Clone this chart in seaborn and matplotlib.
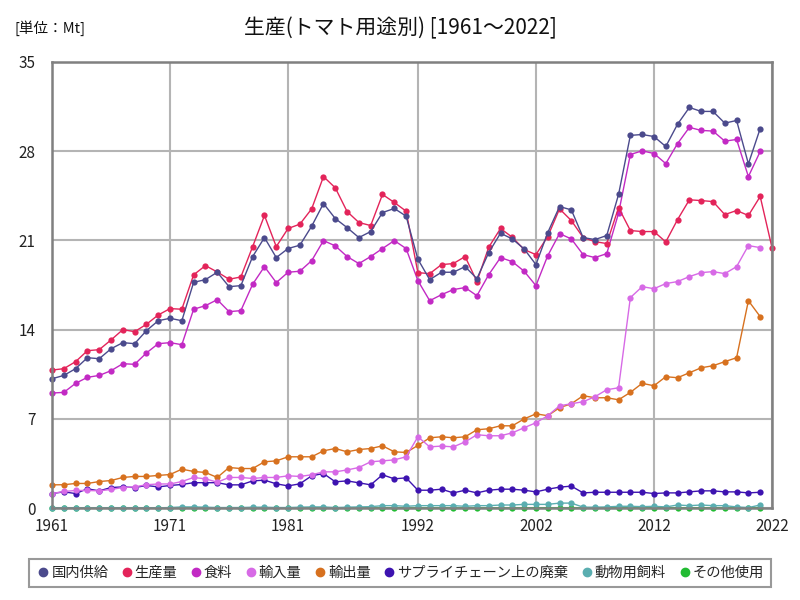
import numpy as np
import pandas as pd
import matplotlib
matplotlib.use("Agg")
import matplotlib.pyplot as plt
from matplotlib.lines import Line2D
import seaborn as sns

years = list(range(1961, 2022))
years_prod = list(range(1961, 2023))

domestic_supply = [10.15, 10.41, 10.94, 11.8, 11.72, 12.5, 12.98, 12.9, 13.92, 14.7,
                   14.89, 14.7, 17.71, 17.92, 18.5, 17.37, 17.45, 19.73, 21.22, 19.65,
                   20.36, 20.62, 22.11, 23.89, 22.71, 22.0, 21.22, 21.69, 23.18, 23.5,
                   22.9, 19.52, 17.92, 18.5, 18.5, 18.94, 18.0, 20.04, 21.56, 21.11,
                   20.33, 19.1, 21.61, 23.65, 23.39, 21.22, 21.06, 21.38, 24.6, 29.23,
                   29.3, 29.14, 28.36, 30.11, 31.42, 31.11, 31.11, 30.19, 30.4, 27.0,
                   29.77]
production = [10.83, 10.94, 11.49, 12.35, 12.43, 13.19, 14.0, 13.84, 14.42, 15.15,
              15.65, 15.6, 18.3, 19.02, 18.52, 17.95, 18.13, 20.51, 22.95, 20.51,
              21.93, 22.27, 23.47, 26.0, 25.12, 23.26, 22.4, 22.16, 24.6, 23.97,
              23.29, 18.47, 18.39, 19.1, 19.18, 19.73, 17.77, 20.46, 21.93, 21.24,
              20.28, 19.88, 21.3, 23.47, 22.55, 21.22, 20.9, 20.75, 23.57, 21.77,
              21.69, 21.69, 20.88, 22.63, 24.18, 24.12, 24.04, 23.02, 23.34, 22.95,
              24.44, 20.43]
food = [9.03, 9.08, 9.79, 10.26, 10.41, 10.78, 11.33, 11.28, 12.17, 12.9,
        12.98, 12.82, 15.6, 15.88, 16.35, 15.41, 15.49, 17.56, 18.94, 17.69,
        18.5, 18.58, 19.41, 20.98, 20.57, 19.73, 19.18, 19.73, 20.36, 20.98,
        20.36, 17.84, 16.27, 16.74, 17.14, 17.3, 16.66, 18.31, 19.65, 19.33,
        18.58, 17.45, 19.8, 21.53, 21.11, 19.88, 19.65, 19.96, 23.13, 27.73,
        28.02, 27.81, 27.02, 28.59, 29.86, 29.62, 29.57, 28.78, 28.91, 26.0,
        27.97]
imports = [1.15, 1.31, 1.39, 1.39, 1.36, 1.47, 1.62, 1.67, 1.84, 1.9,
           1.9, 2.09, 2.41, 2.3, 2.04, 2.41, 2.41, 2.33, 2.41, 2.41,
           2.54, 2.49, 2.62, 2.85, 2.85, 3.0, 3.19, 3.64, 3.71, 3.79,
           4.03, 5.6, 4.81, 4.87, 4.81, 5.2, 5.76, 5.68, 5.68, 5.91,
           6.31, 6.7, 7.25, 8.03, 8.19, 8.35, 8.74, 9.29, 9.44, 16.51,
           17.37, 17.21, 17.61, 17.77, 18.16, 18.47, 18.55, 18.39, 18.94, 20.59,
           20.43]
exports = [1.83, 1.84, 1.94, 1.94, 2.09, 2.17, 2.41, 2.49, 2.49, 2.57,
           2.64, 3.06, 2.88, 2.8, 2.41, 3.19, 3.11, 3.11, 3.64, 3.71,
           4.03, 4.03, 4.03, 4.5, 4.68, 4.42, 4.6, 4.68, 4.89, 4.42,
           4.37, 4.92, 5.52, 5.6, 5.52, 5.6, 6.15, 6.23, 6.46, 6.46,
           7.0, 7.4, 7.25, 7.88, 8.19, 8.82, 8.66, 8.66, 8.5, 9.08,
           9.79, 9.6, 10.31, 10.23, 10.62, 11.01, 11.17, 11.49, 11.8, 16.27,
           15.02]
losses = [1.15, 1.28, 1.15, 1.52, 1.36, 1.62, 1.67, 1.62, 1.78, 1.67,
          1.78, 1.86, 2.0, 2.0, 2.0, 1.83, 1.83, 2.14, 2.2, 1.91,
          1.75, 1.91, 2.54, 2.72, 2.07, 2.14, 1.99, 1.83, 2.62, 2.3,
          2.38, 1.41, 1.41, 1.49, 1.2, 1.41, 1.2, 1.41, 1.49, 1.49,
          1.41, 1.28, 1.49, 1.65, 1.73, 1.2, 1.25, 1.25, 1.25, 1.25,
          1.25, 1.15, 1.2, 1.2, 1.28, 1.36, 1.36, 1.28, 1.28, 1.2,
          1.25]
feed = [0.03, 0.03, 0.03, 0.03, 0.03, 0.03, 0.03, 0.03, 0.03, 0.03,
        0.05, 0.1, 0.1, 0.08, 0.05, 0.05, 0.05, 0.08, 0.08, 0.05,
        0.05, 0.08, 0.1, 0.1, 0.05, 0.08, 0.1, 0.12, 0.2, 0.2,
        0.15, 0.2, 0.2, 0.2, 0.2, 0.15, 0.2, 0.2, 0.25, 0.25,
        0.3, 0.3, 0.3, 0.4, 0.4, 0.08, 0.08, 0.1, 0.15, 0.15,
        0.12, 0.15, 0.1, 0.25, 0.2, 0.25, 0.2, 0.2, 0.1, 0.05,
        0.25]
other = [0.02] * 40 + [0.03] * 21

names = ["国内供給", "生産量", "食料", "輸入量", "輸出量",
         "サプライチェーン上の廃棄", "動物用飼料", "その他使用"]
colors = ["#4b4a8c", "#e3245a", "#c22ac4", "#d76ae6", "#d7711f",
          "#3d13b0", "#5aaeb0", "#22bb33"]

series = [domestic_supply, production, food, imports, exports, losses, feed, other]
frames = []
for n, s in zip(names, series):
    yrs = years_prod if len(s) == len(years_prod) else years
    frames.append(pd.DataFrame({"year": yrs, "value": s, "item": n}))
df = pd.concat(frames, ignore_index=True)

sns.set_theme(style="white")
plt.rcParams['font.family'] = ['Noto Sans CJK JP', 'DejaVu Sans']

fig = plt.figure(figsize=(8, 6), dpi=100)
ax = fig.add_axes([0.065, 0.153, 0.9, 0.744])

palette = dict(zip(names, colors))
for n in names[::-1]:
    sub = df[df["item"] == n]
    sns.lineplot(data=sub, x="year", y="value", color=palette[n], marker="o",
                 markersize=4.5, markeredgewidth=0, linewidth=1.0, ax=ax,
                 legend=False, clip_on=False)

ax.set_xlim(1961, 2022)
ax.set_ylim(0, 35)
ax.set_xticks([1961, 1971, 1981, 1992, 2002, 2012, 2022])
ax.set_yticks([0, 7, 14, 21, 28, 35])
ax.grid(True, color="#b4b4b4", linewidth=1.5)
ax.set_axisbelow(True)
for sp in ax.spines.values():
    sp.set_color("#808080")
    sp.set_linewidth(1.8)
ax.tick_params(axis="y", labelsize=11, colors="#222222", length=0, pad=12)
ax.tick_params(axis="x", labelsize=11, colors="#222222", length=0, pad=7)
ax.set_xlabel("")
ax.set_ylabel("")

fig.text(0.5, 0.953, "生産(トマト用途別) [1961～2022]", ha="center", va="center",
         fontsize=15, color="#111111")
fig.text(0.018, 0.953, "[単位：Mt]", ha="left", va="center", fontsize=10.5,
         color="#111111")

handles = [Line2D([0], [0], marker="o", linestyle="", color=c, markersize=6)
           for c in colors]
leg = fig.legend(handles, names, loc="center", bbox_to_anchor=(0.5, 0.045),
                 ncol=8, fontsize=10.3, frameon=True, fancybox=False,
                 handletextpad=0.05, columnspacing=0.8, borderpad=0.5,
                 handlelength=1.0)
leg.get_frame().set_edgecolor("#808080")
leg.get_frame().set_linewidth(1.5)

fig.savefig("out.png", dpi=100)
